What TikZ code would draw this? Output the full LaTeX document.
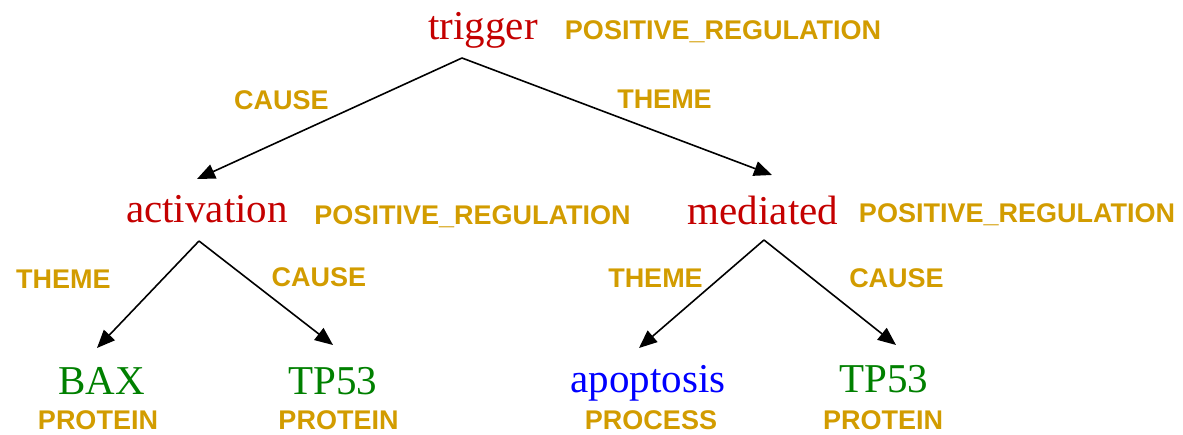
\documentclass[tikz,border=0pt]{standalone}
\usepackage{fontspec}
\setmainfont{Liberation Serif}
\newfontfamily\labfont{Liberation Sans}
\usetikzlibrary{arrows.meta}

\definecolor{trigred}{RGB}{196,0,0}
\definecolor{protgreen}{RGB}{0,128,0}
\definecolor{procblue}{RGB}{0,0,255}
\definecolor{labgold}{RGB}{210,156,0}

\tikzset{
  word/.style={inner sep=0pt, anchor=base, font=\fontsize{41}{41}\selectfont},
  trig/.style={word, text=trigred},
  prot/.style={word, text=protgreen},
  proc/.style={word, text=procblue},
  tag/.style={inner sep=0pt, anchor=base, text=labgold,
              font=\labfont\bfseries\fontsize{27}{27}\selectfont},
  rel/.style={draw=black, line width=1.6pt,
              -{Triangle[length=18pt,width=15pt]}}
}

\begin{document}
\begin{tikzpicture}[x=1pt,y=-1pt]
  \useasboundingbox (0,0) rectangle (1183,435);

  % event triggers and their types
  \node[trig] (trigger)    at (483,40)  {trigger};
  \node[tag]  (triggerT)   at (723,40)  {POSITIVE\_REGULATION};
  \node[trig] (activation) at (207,223) {activation};
  \node[tag]  (activationT) at (472.5,225) {POSITIVE\_REGULATION};
  \node[trig] (mediated)   at (763,225) {mediated};
  \node[tag]  (mediatedT)  at (1017,223) {POSITIVE\_REGULATION};

  % entities and their types
  \node[prot] (bax)      at (101.5,394) {BAX};
  \node[tag]  (baxT)     at (98,429)    {PROTEIN};
  \node[prot] (tpA)      at (333,394)   {TP53};
  \node[tag]  (tpAT)     at (338.5,429) {PROTEIN};
  \node[proc] (apop)     at (648,392)   {apoptosis};
  \node[tag]  (apopT)    at (651,429)   {PROCESS};
  \node[prot] (tpB)      at (884,392)   {TP53};
  \node[tag]  (tpBT)     at (883,429)   {PROTEIN};

  % argument roles
  \node[tag] (r1) at (281.5,110) {CAUSE};
  \node[tag] (r2) at (664.5,109) {THEME};
  \node[tag] (r3) at (63.5,289)  {THEME};
  \node[tag] (r4) at (319,287)   {CAUSE};
  \node[tag] (r5) at (655.5,288) {THEME};
  \node[tag] (r6) at (896.5,288) {CAUSE};

  % argument edges
  \draw[rel] ([shift={(-21,18)}]trigger.base)   -- ([shift={(-10,-44)}]activation.base);
  \draw[rel] ([shift={(-21,18)}]trigger.base)   -- ([shift={(9,-50)}]mediated.base);
  \draw[rel] ([shift={(-8,18)}]activation.base) -- ([shift={(-4.5,-46)}]bax.base);
  \draw[rel] ([shift={(-8,18)}]activation.base) -- ([shift={(0,-49)}]tpA.base);
  \draw[rel] ([shift={(1,15)}]mediated.base)    -- ([shift={(-9,-44)}]apop.base);
  \draw[rel] ([shift={(1,15)}]mediated.base)    -- ([shift={(12,-47)}]tpB.base);
\end{tikzpicture}
\end{document}
